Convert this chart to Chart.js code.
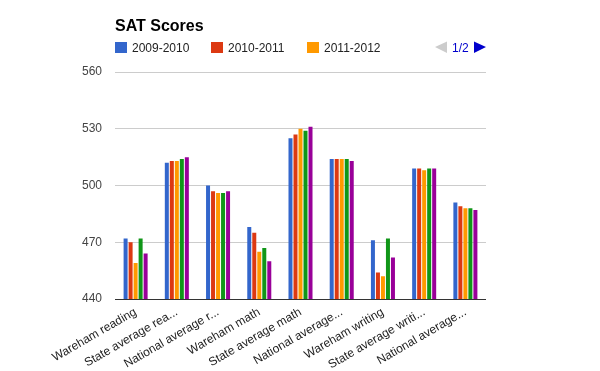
<!DOCTYPE html>
<html><head><meta charset="utf-8">
<script src="https://cdn.jsdelivr.net/npm/chart.js@4"></script>
<style>html,body{margin:0;padding:0;background:#fff}#wrap{width:600px;height:371px;position:relative}</style>
</head><body><div id="wrap"><canvas id="c" width="600" height="371"></canvas></div>
<script>
const chartTitle = 'SAT Scores';
const categories = ['Wareham reading','State average reading','National average reading','Wareham math','State average math','National average math','Wareham writing','State average writing','National average writing'];
const tickLabels = ['Wareham reading','State average rea...','National average r...','Wareham math','State average math','National average...','Wareham writing','State average writi...','National average...'];
const seriesNames = ['2009-2010','2010-2011','2011-2012','2012-2013','2013-2014'];
const seriesColors = ['#3366cc','#dc3912','#ff9900','#109618','#990099'];
const values2009 = [472, 512, 500, 478, 525, 514, 471, 509, 491];
const values2010 = [470, 513, 497, 475, 527, 514, 454, 509, 489];
const values2011 = [459, 513, 496, 465, 530, 514, 452, 508, 488];
const values2012 = [472, 514, 496, 467, 529, 514, 472, 509, 488];
const values2013 = [464, 515, 497, 460, 531, 513, 462, 509, 487];
const yTicks = [440, 470, 500, 530, 560];
const pagerText = '1/2';
const legendShown = 3;

const FONT = 'Arial, "Liberation Sans", sans-serif';
const seriesValues = [values2009, values2010, values2011, values2012, values2013];

const headerPlugin = {
  id: 'header',
  afterDraw(chart) {
    const ctx = chart.ctx;
    ctx.save();
    ctx.textAlign = 'left';
    ctx.textBaseline = 'alphabetic';
    ctx.fillStyle = '#000';
    ctx.font = 'bold 16px ' + FONT;
    ctx.fillText(chartTitle, 115, 31);
    ctx.font = '12px ' + FONT;
    const ds = chart.data.datasets;
    for (let i = 0; i < legendShown; i++) {
      const x = 115 + i * 96;
      ctx.fillStyle = ds[i].backgroundColor;
      ctx.fillRect(x, 42, 12, 11);
      ctx.fillStyle = '#222';
      ctx.fillText(ds[i].label, x + 17, 51.5);
    }
    ctx.fillStyle = '#cccccc';
    ctx.beginPath(); ctx.moveTo(435, 47); ctx.lineTo(447, 41.5); ctx.lineTo(447, 53); ctx.closePath(); ctx.fill();
    ctx.fillStyle = '#0000cc';
    ctx.fillText(pagerText, 452, 51.5);
    ctx.beginPath(); ctx.moveTo(474, 41.5); ctx.lineTo(486, 47); ctx.lineTo(474, 53); ctx.closePath(); ctx.fill();
    ctx.restore();
  }
};

new Chart(document.getElementById('c'), {
  type: 'bar',
  data: {
    labels: categories,
    datasets: seriesNames.map((n, i) => ({
      label: n,
      data: seriesValues[i],
      backgroundColor: seriesColors[i],
      borderWidth: 0,
      categoryPercentage: 0.607,
      barPercentage: 0.8
    }))
  },
  options: {
    responsive: false,
    animation: false,
    devicePixelRatio: 1,
    layout: { padding: { top: 72, right: 114, left: 0, bottom: 0 } },
    plugins: { legend: { display: false }, title: { display: false }, tooltip: { enabled: false } },
    scales: {
      x: {
        grid: { display: false, drawTicks: false },
        border: { display: false },
        ticks: {
          autoSkip: false, minRotation: 30, maxRotation: 30, padding: 6,
          color: '#222', font: { size: 12, family: FONT },
          callback: (v, i) => tickLabels[i]
        },
        afterFit(s) { s.height = 72; }
      },
      y: {
        min: 440, max: 560,
        afterBuildTicks(s) { s.ticks = yTicks.map(v => ({ value: v })); },
        grid: { drawTicks: false, color: c => (c.tick && c.tick.value === 440) ? '#333333' : '#cccccc' },
        border: { display: false },
        ticks: { padding: 13, color: '#444', font: { size: 12, family: FONT } },
        afterFit(s) { s.width = 115; }
      }
    }
  },
  plugins: [headerPlugin]
});
</script></body></html>
